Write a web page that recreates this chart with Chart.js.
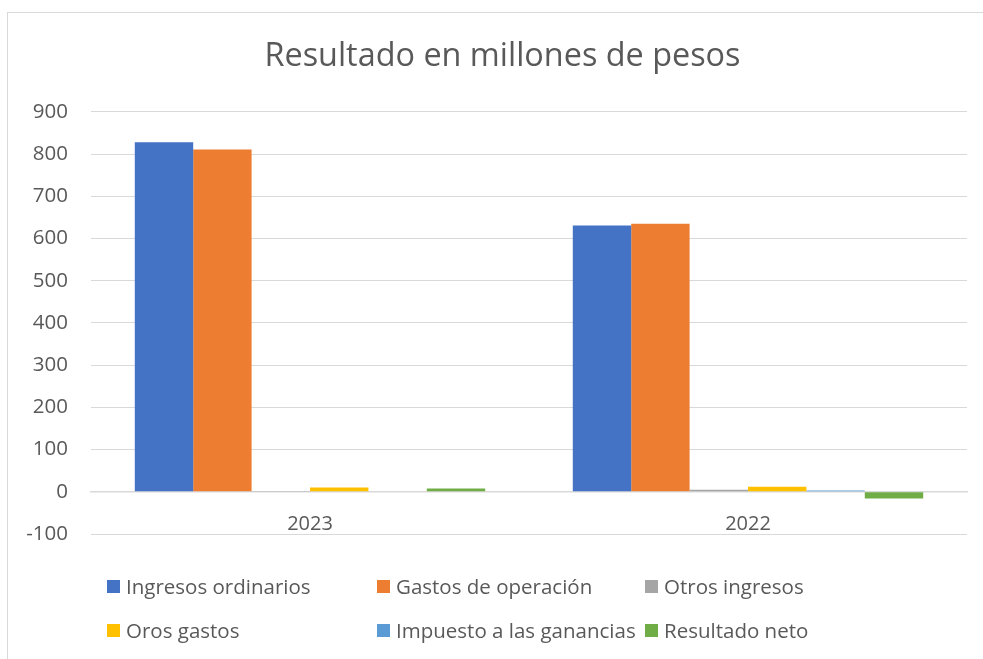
<!DOCTYPE html>
<html lang="es">
<head>
<meta charset="utf-8">
<title>Resultado en millones de pesos</title>
<script src="https://cdn.jsdelivr.net/npm/chart.js@4.4.1/dist/chart.umd.min.js"></script>
<style>
  html, body { margin: 0; padding: 0; background: #fff; }
  #wrap { position: relative; width: 983px; height: 659px; overflow: hidden; font-family: "Open Sans", sans-serif; }
  #marco { position: absolute; left: 7px; top: 12px; width: 990px; height: 660px; border-left: 1px solid #d9d9d9; border-top: 1px solid #d9d9d9; }
  #grafica { position: absolute; left: 0; top: 0; }
  #leyenda { position: absolute; left: 0; top: 0; width: 983px; height: 659px; pointer-events: none; }
  .item { position: absolute; display: flex; align-items: center; font-size: 20.5px; color: #595959; white-space: nowrap; transform: translateY(-50%); }
  .item span.cuadro { display: inline-block; width: 13px; height: 13px; margin-right: 6px; }
</style>
</head>
<body>
<div id="wrap">
  <div id="marco"></div>
  <canvas id="grafica" width="983" height="659"></canvas>
  <div id="leyenda"></div>
</div>
<script>
/* Datos (millones de pesos) */
const anios = ['2023', '2022'];
const ingresosOrdinarios = [828, 631];
const gastosOperacion = [811, 635];
const otrosIngresos = [2, 5];
const orosGastos = [10, 12];
const impuestoGanancias = [0, 3];
const resultadoNeto = [8, -16];

const seriesNombres = ['Ingresos ordinarios', 'Gastos de operación', 'Otros ingresos', 'Oros gastos', 'Impuesto a las ganancias', 'Resultado neto'];
const seriesValores = [ingresosOrdinarios, gastosOperacion, otrosIngresos, orosGastos, impuestoGanancias, resultadoNeto];
const seriesColores = ['#4472C4', '#ED7D31', '#A5A5A5', '#FFC000', '#5B9BD5', '#70AD47'];

const gris = '#595959';
const lineaGris = '#d9d9d9';

const datasets = seriesNombres.map((nombre, i) => ({
  label: nombre,
  data: seriesValores[i],
  backgroundColor: seriesColores[i],
  borderWidth: 0,
  categoryPercentage: 0.8,
  barPercentage: 1.0
}));

/* El título va centrado sobre el marco completo, no sobre el área del canvas */
const centrarTitulo = {
  id: 'centrarTitulo',
  afterLayout(chart) {
    const t = chart.titleBlock;
    if (!t) return;
    t.left += 19;
    t.right += 19;
  }
};

const ctx = document.getElementById('grafica').getContext('2d');
const chart = new Chart(ctx, {
  type: 'bar',
  data: { labels: anios, datasets },
  plugins: [centrarTitulo],
  options: {
    responsive: false,
    animation: false,
    layout: { padding: { top: 12, left: 0, right: 16, bottom: 125 } },
    plugins: {
      legend: { display: false },
      tooltip: { enabled: false },
      title: {
        display: true,
        text: 'Resultado en millones de pesos',
        color: gris,
        font: { family: '"Open Sans", sans-serif', size: 32.4, weight: 'normal' },
        padding: { top: 25.6, bottom: 35.5 }
      }
    },
    scales: {
      x: {
        position: { y: 0 },
        grid: { display: false, drawTicks: false },
        border: { display: true, color: lineaGris, width: 1.5 },
        ticks: {
          color: gris,
          padding: 20,
          font: { family: '"Open Sans", sans-serif', size: 20 }
        }
      },
      y: {
        min: -100,
        max: 900,
        afterFit: (scale) => { scale.width = 91; },
        grid: { color: lineaGris, lineWidth: 1, drawTicks: false },
        border: { display: false },
        ticks: {
          stepSize: 100,
          color: gris,
          padding: 23,
          font: { family: '"Open Sans", sans-serif', size: 20.5 }
        }
      }
    }
  }
});

/* Leyenda en tres columnas, como en el original */
const leyenda = document.getElementById('leyenda');
const columnasX = [107, 377, 645];
const filasY = [586, 630];
seriesNombres.forEach((nombre, i) => {
  const item = document.createElement('div');
  item.className = 'item';
  item.style.left = columnasX[i % 3] + 'px';
  item.style.top = filasY[Math.floor(i / 3)] + 'px';
  item.innerHTML = '<span class="cuadro" style="background:' + seriesColores[i] + '"></span>' + nombre;
  leyenda.appendChild(item);
});
</script>
</body>
</html>
